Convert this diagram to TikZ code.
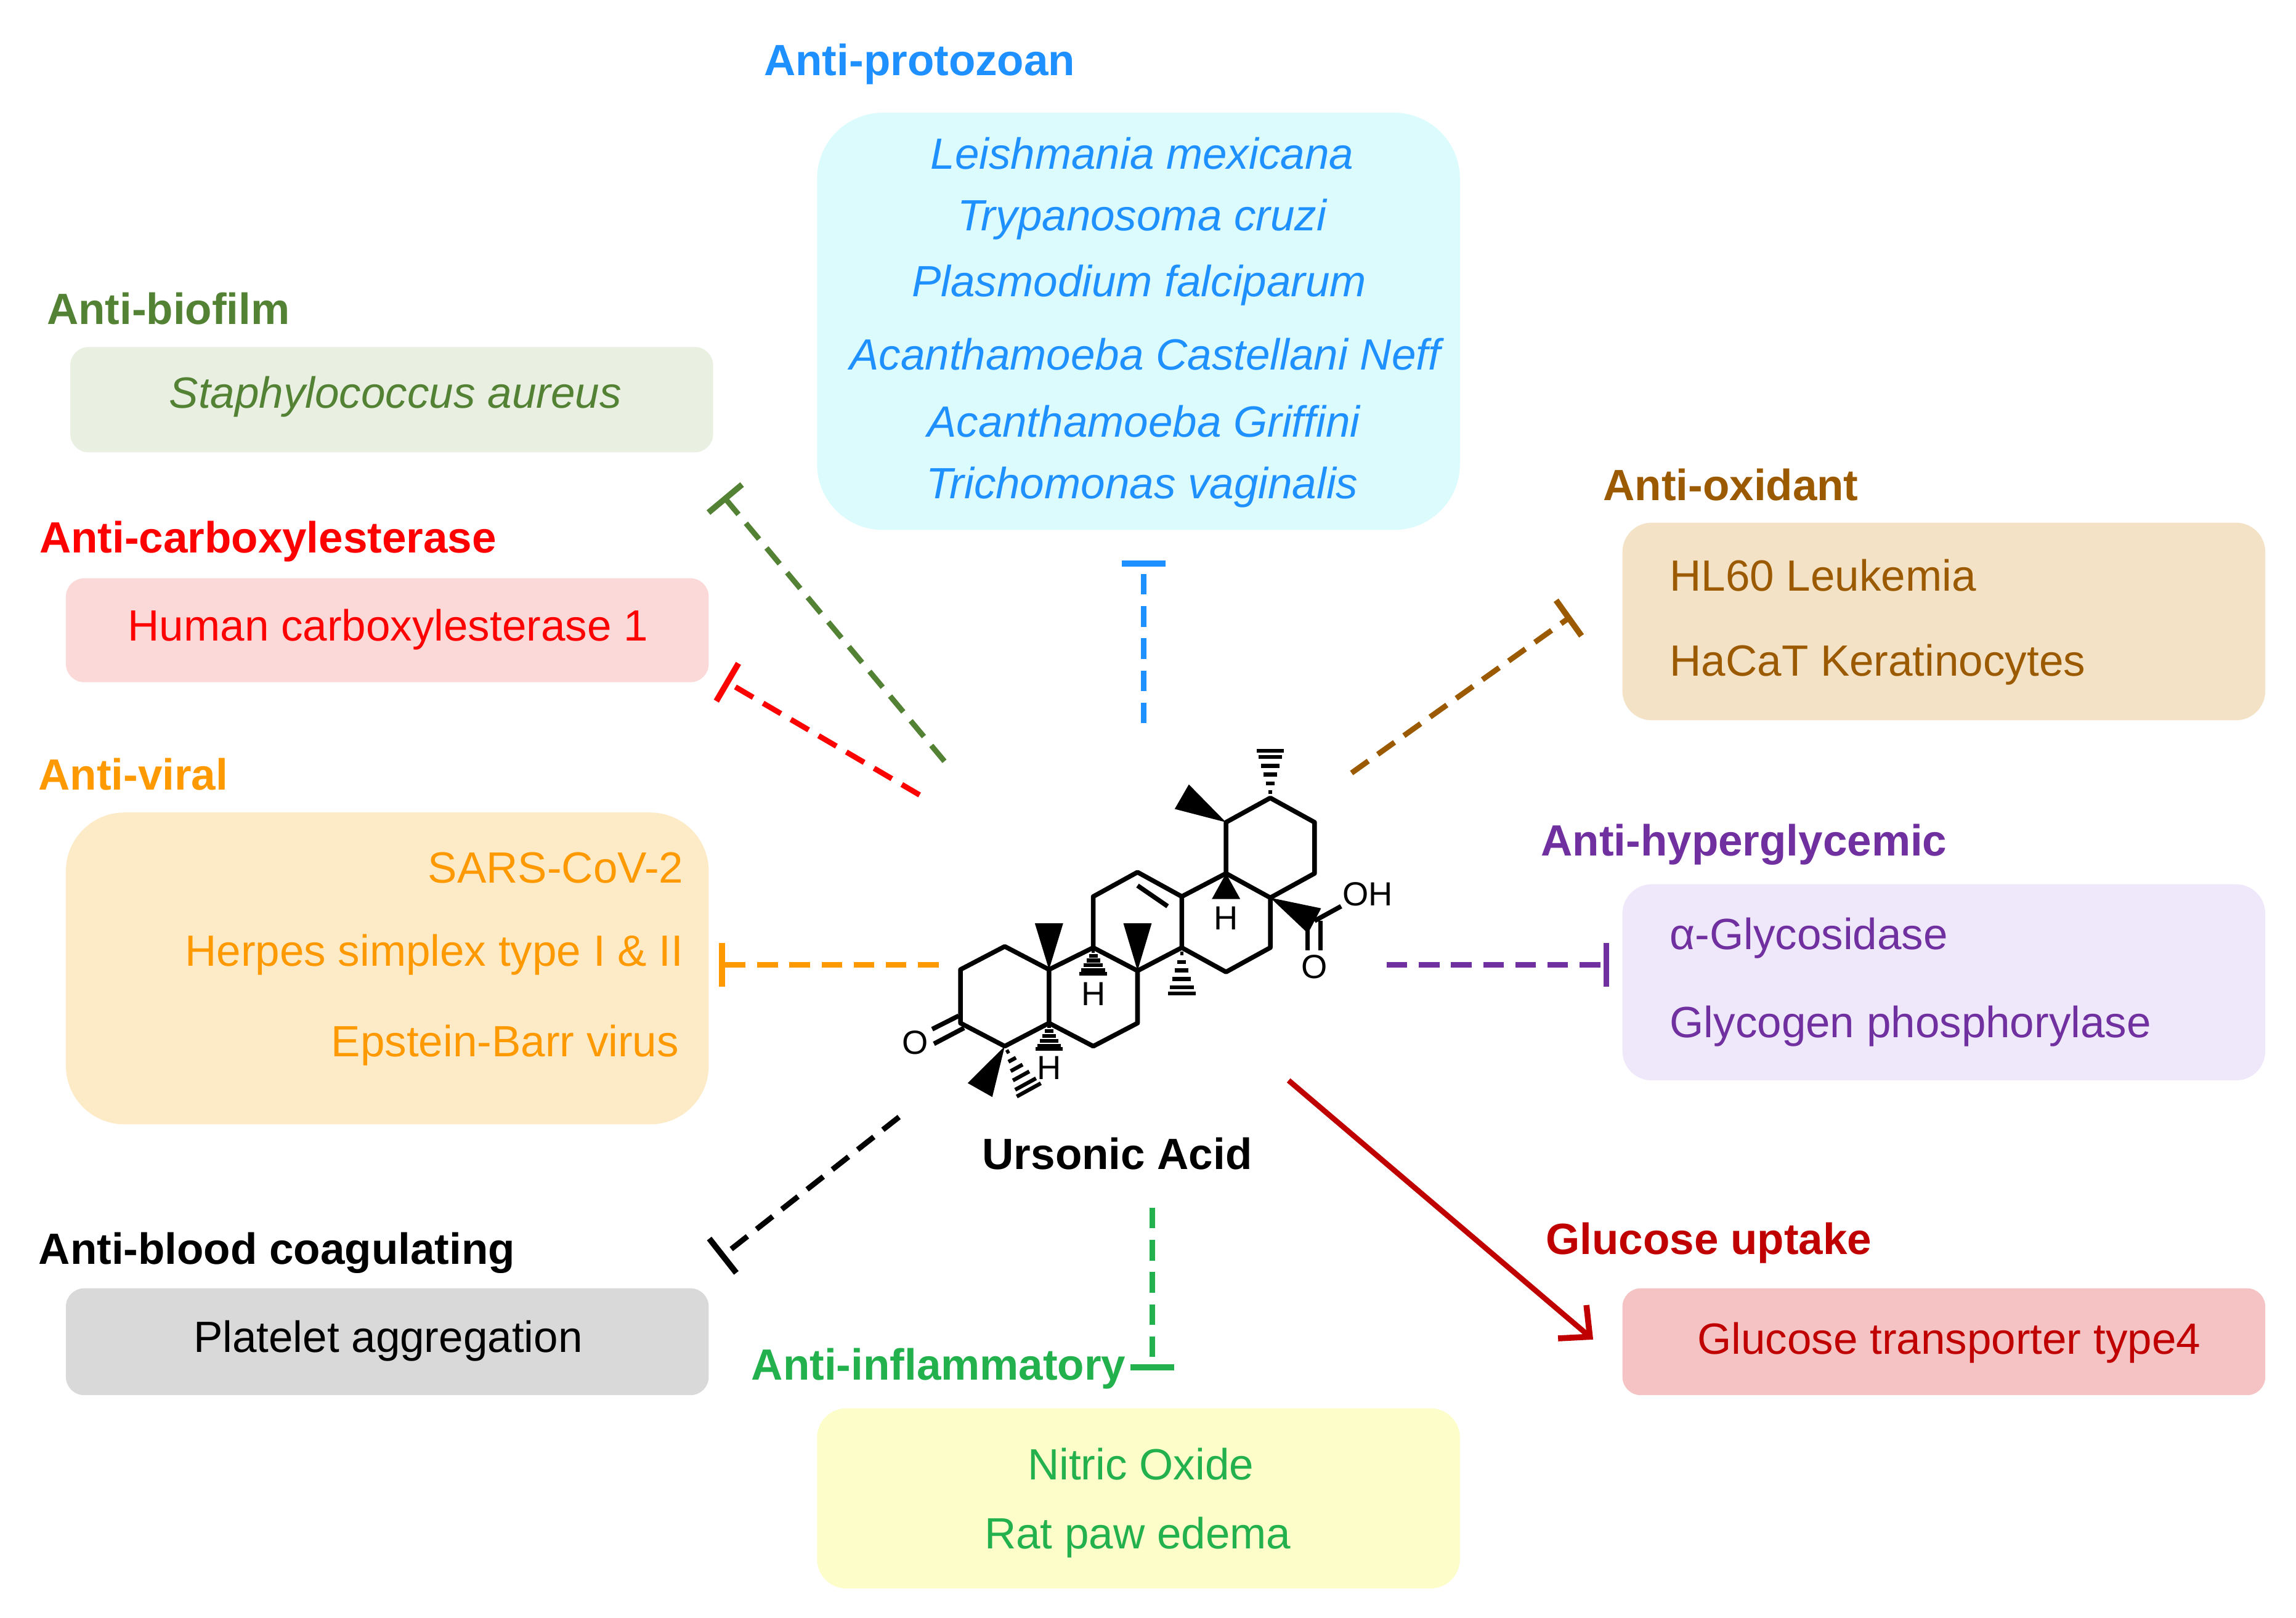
\documentclass[tikz,border=0pt]{standalone}
\usepackage{fontspec}
\setmainfont{Liberation Sans}
\usetikzlibrary{arrows.meta,calc}
\definecolor{cblue}{HTML}{1E90FF}
\definecolor{cgreen}{HTML}{548235}
\definecolor{cred}{HTML}{FF0000}
\definecolor{corange}{HTML}{FF9900}
\definecolor{cinfl}{HTML}{22B14C}
\definecolor{cdred}{HTML}{C00000}
\definecolor{cpurple}{HTML}{7030A0}
\definecolor{cbrown}{HTML}{9C5A00}
\definecolor{fprot}{HTML}{DBFBFD}
\definecolor{fbio}{HTML}{E9F0E2}
\definecolor{fcarb}{HTML}{FCD9D9}
\definecolor{fvir}{HTML}{FDEBC8}
\definecolor{fblood}{HTML}{D9D9D9}
\definecolor{finfl}{HTML}{FDFDC9}
\definecolor{fglu}{HTML}{F5C3C3}
\definecolor{fhyp}{HTML}{EFE8FB}
\definecolor{foxi}{HTML}{F3E2C6}
\newcommand\mwedge[2]{\fill (#1) -- ($(#2)!5.5pt!90:(#1)$) -- ($(#2)!5.5pt!-90:(#1)$) -- cycle;}
\newcommand\mhash[2]{\foreach \t in {0.12,0.3,0.48,0.66,0.84,0.97}{\draw[line width=1.5pt] ($(#1)!\t!(#2)!{\t*5.5pt}!90:(#2)$) -- ($(#1)!\t!(#2)!{\t*5.5pt}!-90:(#2)$);}}
\begin{document}
\begin{tikzpicture}[x=0.02cm,y=-0.02cm,
  every node/.style={font=\fontsize{17}{20}\selectfont, inner sep=0pt},
  ttl/.style={font=\fontsize{17}{20}\selectfont\bfseries},
  it/.style={font=\fontsize{17}{20}\selectfont\itshape},
  dl/.style={line width=2.1pt, dash pattern=on 8pt off 4.5pt, -{Bar[width=17pt,line width=2.3pt]}},
  bond/.style={line width=1.8pt}]
\useasboundingbox (0,0) rectangle (1568,1105);
% boxes
\fill[fprot, rounded corners=0.9cm] (558,77) rectangle (997,362);
\fill[fbio, rounded corners=0.25cm] (48,237) rectangle (487,309);
\fill[fcarb, rounded corners=0.25cm] (45,395) rectangle (484,466);
\fill[fvir, rounded corners=0.8cm] (45,555) rectangle (484,768);
\fill[fblood, rounded corners=0.25cm] (45,880) rectangle (484,953);
\fill[finfl, rounded corners=0.4cm] (558,962) rectangle (997,1085);
\fill[fglu, rounded corners=0.25cm] (1108,880) rectangle (1547,953);
\fill[fhyp, rounded corners=0.4cm] (1108,604) rectangle (1547,738);
\fill[foxi, rounded corners=0.4cm] (1108,357) rectangle (1547,492);
% titles
\node[ttl, text=cblue] (tp) at (628,44) {Anti-protozoan};
\node[ttl, text=cgreen] (tb) at (115,211) {Anti-biofilm};
\node[ttl, text=cred] (tc) at (183,370) {Anti-carboxylesterase};
\node[ttl, text=corange] (tv) at (91,529) {Anti-viral};
\node[ttl] (tbc) at (189,856) {Anti-blood coagulating};
\node[ttl, text=cinfl] (ti) at (641,935) {Anti-inflammatory};
\node[ttl, text=cdred] (tg) at (1167,849) {Glucose uptake};
\node[ttl, text=cpurple] (th) at (1191,577) {Anti-hyperglycemic};
\node[ttl, text=cbrown] (to) at (1182,331) {Anti-oxidant};
\node[ttl] (ua) at (763,788) {Ursonic Acid};
% texts
\node[it, text=cblue] (p1) at (780,105) {Leishmania mexicana};
\node[it, text=cblue] (p2) at (780,150) {Trypanosoma cruzi};
\node[it, text=cblue] (p3) at (778,195) {Plasmodium falciparum};
\node[it, text=cblue] (p4) at (782,242) {Acanthamoeba Castellani Neff};
\node[it, text=cblue] (p5) at (781,288) {Acanthamoeba Griffini};
\node[it, text=cblue] (p6) at (780,333) {Trichomonas vaginalis};
\node[it, text=cgreen] (b1) at (270,271) {Staphylococcus aureus};
\node[text=cred] (c1) at (265,430) {Human carboxylesterase 1};
\node[text=corange, anchor=east] (v1) at (467,593) {SARS-CoV-2};
\node[text=corange, anchor=east] (v2) at (467,652) {Herpes simplex type I \& II};
\node[text=corange, anchor=east] (v3) at (464,714) {Epstein-Barr virus};
\node (bc1) at (265,916) {Platelet aggregation};
\node[text=cinfl] (i1) at (779,1000) {Nitric Oxide};
\node[text=cinfl] (i2) at (777,1050) {Rat paw edema};
\node[text=cdred] (g1) at (1331,917) {Glucose transporter type4};
\node[text=cpurple, anchor=west] (h1) at (1140,641) {α-Glycosidase};
\node[text=cpurple, anchor=west] (h2) at (1140,701) {Glycogen phosphorylase};
\node[text=cbrown, anchor=west] (o1) at (1140,393) {HL60 Leukemia};
\node[text=cbrown, anchor=west] (o2) at (1140,454) {HaCaT Keratinocytes};
% connectors
\coordinate (s1) at (781,494); \coordinate (e1) at (781,383);
\coordinate (s2) at (645,520); \coordinate (e2) at (494,339);
\coordinate (s3) at (628,543); \coordinate (e3) at (495,465);
\coordinate (s4) at (641,659); \coordinate (e4) at (491,659);
\coordinate (s5) at (947,659); \coordinate (e5) at (1099,659);
\coordinate (s6) at (923,528); \coordinate (e6) at (1073,421);
\coordinate (s7) at (614,763); \coordinate (e7) at (492,859);
\coordinate (s8) at (787,825); \coordinate (e8) at (787,936);
\coordinate (s9) at (880,738); \coordinate (e9) at (1088,915);
\draw[dl, cblue] (s1) -- (e1);
\draw[dl, cgreen] (s2) -- (e2);
\draw[dl, cred] (s3) -- (e3);
\draw[dl, corange] (s4) -- (e4);
\draw[dl, cpurple] (s5) -- (e5);
\draw[dl, cbrown] (s6) -- (e6);
\draw[dl, black] (s7) -- (e7);
\draw[dl, cinfl] (s8) -- (e8);
\draw[line width=2.1pt, cdred, -{Straight Barb[length=9pt,width=17pt,line width=2.3pt]}] (s9) -- (e9);
% molecule
\begin{scope}[shift={(610,496)}, x=0.004834cm, y=-0.00333cm]
\coordinate (a1) at (190,1000); \coordinate (a2) at (315,905); \coordinate (a3) at (440,1000);
\coordinate (a4) at (440,1220); \coordinate (a5) at (315,1315); \coordinate (a6) at (190,1220);
\coordinate (b1) at (565,910); \coordinate (b2) at (690,1005); \coordinate (b3) at (690,1220); \coordinate (b4) at (565,1315);
\coordinate (c1) at (565,700); \coordinate (c2) at (690,600); \coordinate (c3) at (815,700); \coordinate (c4) at (815,910);
\coordinate (d1) at (940,605); \coordinate (d2) at (1065,705); \coordinate (d3) at (1065,910); \coordinate (d4) at (940,1010);
\coordinate (f1) at (940,395); \coordinate (f2) at (1065,295); \coordinate (f3) at (1190,395); \coordinate (f4) at (1190,605);
\coordinate (cc) at (1190,800);
\draw[bond, line join=round] (a1)--(a2)--(a3)--(a4)--(a5)--(a6)--cycle;
\draw[bond, line join=round] (a3)--(b1)--(b2)--(b3)--(b4)--(a4);
\draw[bond, line join=round] (b1)--(c1)--(c2)--(c3)--(c4)--(b2);
\draw[bond, line join=round] (c3)--(d1)--(d2)--(d3)--(d4)--(c4);
\draw[bond, line join=round] (d1)--(f1)--(f2)--(f3)--(f4)--(d2);
\draw[bond] (690,655)--(775,740);
\draw[bond] (185,1190)--(110,1245); \draw[bond] (200,1240)--(115,1305);
\node (ok) at (62,1300) {\fontsize{13}{15}\selectfont O};
\draw[bond] (cc)--(1265,740);
\draw[bond] (1170,800)--(1170,920); \draw[bond] (1207,800)--(1207,920);
\node (oo) at (1190,990) {\fontsize{13}{15}\selectfont O};
\node (oh) at (1340,690) {\fontsize{13}{15}\selectfont OH};
\mwedge{d2}{cc}
\mwedge{a3}{440,810}
\mwedge{b2}{690,810}
\mwedge{f1}{815,290}
\mwedge{d1}{940,710}
\node (h1m) at (940,790) {\fontsize{13}{15}\selectfont H};
\mhash{b1}{565,1020}
\node (h2m) at (565,1100) {\fontsize{13}{15}\selectfont H};
\mhash{c4}{815,1105}
\mhash{a4}{440,1330}
\node (h3m) at (440,1405) {\fontsize{13}{15}\selectfont H};
\mhash{f2}{1065,95}
\mwedge{a5}{245,1495}
\mhash{a5}{385,1500}
\end{scope}
\end{tikzpicture}
\end{document}
